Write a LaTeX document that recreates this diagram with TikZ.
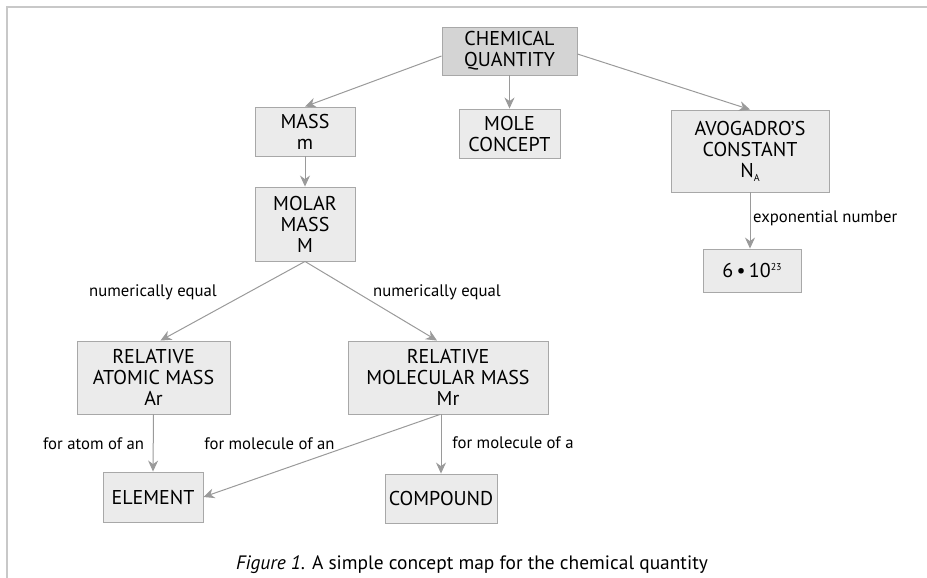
\documentclass[tikz,border=0pt]{standalone}
\usepackage{fontspec}
\setmainfont{PT Sans}
\usetikzlibrary{arrows.meta,calc}
\definecolor{boxfill}{HTML}{EBEBEB}
\definecolor{topfill}{HTML}{D4D4D4}
\definecolor{boxline}{HTML}{A8A8A8}
\definecolor{arrcol}{HTML}{9A9A9A}
\definecolor{framecol}{HTML}{C8C8C8}
\tikzset{
  concept/.style={draw=boxline, fill=boxfill, line width=0.9pt, align=center, inner sep=0pt,
    font=\fontsize{20}{21}\selectfont},
  conn/.style={draw=arrcol, line width=1pt, -{Stealth[length=11pt,width=10pt]}},
  lbl/.style={font=\fontsize{16.7}{19}\selectfont, inner sep=0pt}
}
\begin{document}
\begin{tikzpicture}[x=1pt,y=-1pt]
\useasboundingbox (0,0) rectangle (927,578);
\draw[framecol, line width=1.8pt] (927,7) -- (7,7) -- (7,578);

\node[concept, fill=topfill, minimum width=135pt, minimum height=48pt] (cq) at (509.5,51) {CHEMICAL\\QUANTITY};
\node[concept, minimum width=100pt, minimum height=49pt] (mass) at (305,131.5) {MASS\\m};
\node[concept, minimum width=101pt, minimum height=49pt] (mole) at (509.5,133.5) {MOLE\\CONCEPT};
\node[concept, minimum width=158pt, minimum height=82pt] (av) at (750,151) {AVOGADRO’S\\CONSTANT\\N\raisebox{-4pt}{\fontsize{10}{10}\selectfont A}};
\node[concept, minimum width=100pt, minimum height=74pt] (molar) at (305,224) {MOLAR\\MASS\\M};
\node[concept, minimum width=98pt, minimum height=43pt] (six) at (752,270.5) {6\,\textbullet\,10\raisebox{7pt}{\fontsize{10}{10}\selectfont 23}};
\node[concept, minimum width=153pt, minimum height=73pt] (ra) at (153.5,377.5) {RELATIVE\\ATOMIC MASS\\Ar};
\node[concept, minimum width=200pt, minimum height=73pt] (rm) at (448,377.5) {RELATIVE\\MOLECULAR MASS\\Mr};
\node[concept, minimum width=100pt, minimum height=50pt] (element) at (153,497) {ELEMENT};
\node[concept, minimum width=112pt, minimum height=49pt] (compound) at (441,498.5) {COMPOUND};

\draw[conn] ($(cq.west)+(0,5)$) -- (mass.north);
\draw[conn] (cq.south) -- (mole.north);
\draw[conn] ($(cq.east)+(0,3)$) -- (av.north);
\draw[conn] (mass.south) -- (molar.north);
\draw[conn] (av.south) -- (av.south |- six.north);
\draw[conn] (molar.south) -- ($(ra.north)+(7,0)$);
\draw[conn] (molar.south) -- ($(rm.north)+(-11,0)$);
\draw[conn] (ra.south) -- (element.north);
\draw[conn] ($(rm.south)+(-8,0)$) -- (element.east);
\draw[conn] (rm.south -| compound.north) -- (compound.north);

\node[lbl] (l1) at (153,292) {numerically equal};
\node[lbl] (l2) at (437,292) {numerically equal};
\node[lbl] (l3) at (93.5,444) {for atom of an};
\node[lbl] (l4) at (269.5,444) {for molecule of an};
\node[lbl] (l5) at (513,443) {for molecule of a};
\node[lbl, anchor=west] (l6) at (753,218) {exponential number};

\node[font=\fontsize{19.4}{22}\selectfont, inner sep=0pt] (cap) at (472,565) {\textit{Figure 1.} A simple concept map for the chemical quantity};
\end{tikzpicture}
\end{document}
